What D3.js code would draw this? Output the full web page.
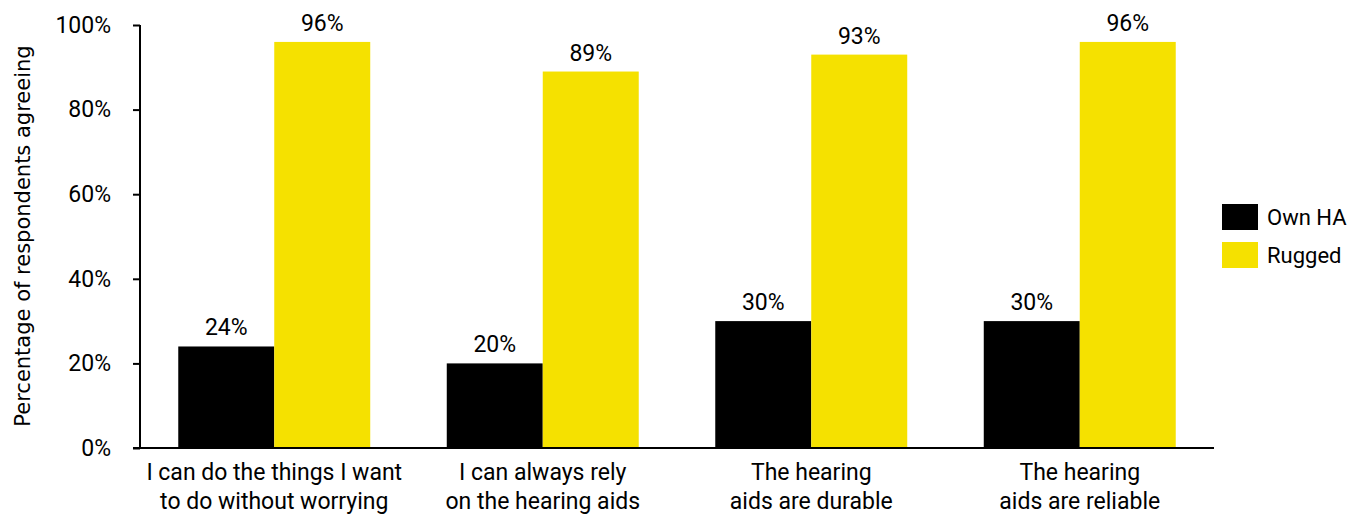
<!DOCTYPE html>
<html>
<head>
<meta charset="utf-8">
<script src="https://cdn.jsdelivr.net/npm/d3@7"></script>
<style>
  body { margin: 0; background: #fff; }
  svg text { font-family: Roboto, "Liberation Sans", sans-serif; fill: #000; }
</style>
</head>
<body>
<svg id="chart" width="1365" height="532"></svg>
<script>
const categories = [
    ['I can do the things I want', 'to do without worrying'],
    ['I can always rely', 'on the hearing aids'],
    ['The hearing', 'aids are durable'],
    ['The hearing', 'aids are reliable']
];
const seriesNames = ['Own HA', 'Rugged'];
const ownHA = [24, 20, 30, 30];
const rugged = [96, 89, 93, 96];
const yTicks = [0, 20, 40, 60, 80, 100];
const colors = ['#000000', '#f5e100'];

const margin = {left: 140, right: 151, top: 25, bottom: 84};
const width = 1365 - margin.left - margin.right;
const height = 532 - margin.top - margin.bottom;

const svg = d3.select('#chart');
const g = svg.append('g').attr('transform', `translate(${margin.left},${margin.top})`);

const x = d3.scaleBand()
    .domain(d3.range(categories.length))
    .range([0, width])
    .paddingInner(0.285)
    .paddingOuter(0.1425);
const xs = d3.scaleBand().domain(seriesNames).range([0, x.bandwidth()]);
const y = d3.scaleLinear().domain([0, 100]).range([height, 0]);

const series = [ownHA, rugged];

series.forEach((vals, si)=>{
    g.selectAll('.bar' + si)
        .data(vals)
        .enter().append('rect')
        .attr('x', (d, i)=> x(i) + xs(seriesNames[si]))
        .attr('y', d=> y(d))
        .attr('width', xs.bandwidth())
        .attr('height', d=> height - y(d))
        .attr('fill', colors[si]);

    g.selectAll('.lbl' + si)
        .data(vals)
        .enter().append('text')
        .attr('x', (d, i)=> x(i) + xs(seriesNames[si]) + xs.bandwidth() / 2)
        .attr('y', d=> y(d) - 11)
        .attr('text-anchor', 'middle')
        .style('font-size', '23px')
        .text(d=> d + '%');
});

// y axis
const yAxis = g.append('g')
    .call(d3.axisLeft(y).tickValues(yTicks).tickSize(7).tickFormat(d=> d + '%'));
yAxis.select('.domain').attr('stroke-width', 2).attr('d', `M-0,${height}V0`);
yAxis.selectAll('.tick line').attr('stroke-width', 2);
yAxis.selectAll('.tick text').attr('x', -29).style('font-size', '23px').attr('font-family', null);

// x axis baseline
g.append('line')
    .attr('x1', -7).attr('x2', width)
    .attr('y1', height).attr('y2', height)
    .attr('stroke', '#000').attr('stroke-width', 2);

// category labels
const cat = g.selectAll('.cat')
    .data(categories)
    .enter().append('text')
    .attr('text-anchor', 'middle')
    .attr('transform', (d, i)=> `translate(${x(i) + x.bandwidth() / 2},${height})`)
    .style('font-size', '23px');
cat.append('tspan').attr('x', 0).attr('y', 32).text(d=> d[0]);
cat.append('tspan').attr('x', 0).attr('y', 61).text(d=> d[1]);

// y label
svg.append('text')
    .attr('transform', 'translate(30,236) rotate(-90)')
    .attr('text-anchor', 'middle')
    .style('font-family', '"DejaVu Sans", sans-serif')
    .style('font-size', '21px')
    .text('Percentage of respondents agreeing');

// legend
const legend = svg.append('g').attr('transform', 'translate(1222,204)');
seriesNames.forEach((name, i)=>{
    legend.append('rect')
        .attr('x', 0).attr('y', i * 38)
        .attr('width', 36).attr('height', 26)
        .attr('fill', colors[i]);
    legend.append('text')
        .attr('x', 45).attr('y', i * 38 + 21)
        .style('font-size', '22px')
        .text(name);
});
</script>
</body>
</html>
